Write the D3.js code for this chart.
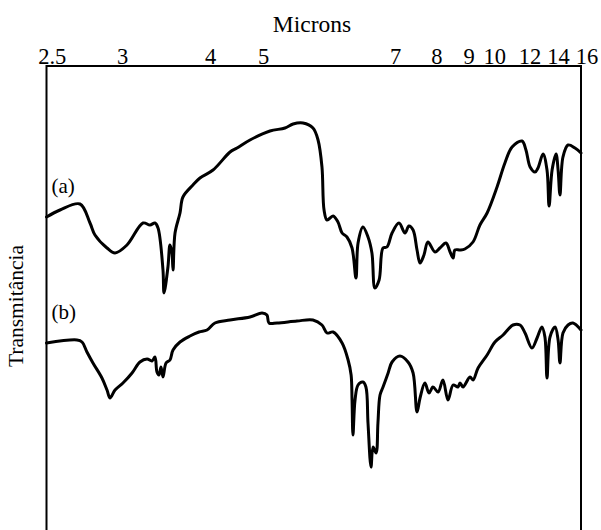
<!DOCTYPE html>
<html>
<head>
<meta charset="utf-8">
<script src="https://cdn.jsdelivr.net/npm/d3@7"></script>
<style>
  html, body { margin: 0; padding: 0; background: #fff; }
  svg { display: block; }
  text { font-family: "Liberation Serif", "Times New Roman", serif; fill: #000; }
</style>
</head>
<body>
<script>
// ---- data (wavenumber cm^-1, transmittance %) ----
const micronTicks = [2.5, 3, 4, 5, 7, 8, 9, 10, 12, 14, 16];
const seriesLabels = ["(a)", "(b)"];
const xTitle = "Microns";
const yTitle = "Transmitância";

const spectrumA = [
  [4050,69.8],[3922,71.2],[3733,72.4],[3638,68.6],[3591,66.2],[3477,63.6],[3401,62.6],[3288,64.2],
  [3136,68.6],[3070,68.2],[3023,68.6],[2994,67.6],[2947,59.2],[2937,54.6],[2900,59.8],[2881,64.2],
  [2862,62.6],[2852,59.2],[2833,66.6],[2786,70.6],[2758,73.8],[2663,76.2],[2597,77.6],[2473,79.2],
  [2312,82.8],[2246,83.6],[2123,85.2],[1970,87.0],[1905,87.6],[1870,88.4],[1827,88.6],[1784,87.6],
  [1762,85.2],[1745,79.8],[1736,71.2],[1723,69.2],[1697,70.0],[1676,68.8],[1658,66.6],[1637,65.8],
  [1615,63.6],[1598,57.6],[1589,64.6],[1568,67.8],[1546,65.8],[1529,62.6],[1516,55.6],[1498,57.2],
  [1481,63.6],[1464,63.8],[1442,66.6],[1412,68.6],[1386,66.6],[1369,68.0],[1351,67.2],[1334,63.2],
  [1321,60.6],[1304,62.2],[1287,64.8],[1256,62.8],[1235,63.6],[1209,64.6],[1191,62.8],[1178,61.6],
  [1170,63.2],[1148,63.2],[1127,63.4],[1092,64.8],[1062,68.2],[1031,70.6],[988,75.8],[954,80.6],
  [923,83.8],[880,85.0],[863,83.2],[845,79.8],[824,78.8],[811,79.6],[789,82.4],[772,79.2],
  [763,72.0],[750,79.2],[733,82.4],[724,79.2],[716,74.2],[703,81.8],[681,84.2],[651,83.6],[625,82.6]
];

const spectrumB = [
  [4050,44.6],[3761,45.2],[3714,44.8],[3667,42.8],[3610,40.6],[3525,37.6],[3477,35.2],[3449,33.6],
  [3401,35.2],[3326,36.6],[3240,38.6],[3165,40.8],[3098,41.4],[3051,41.0],[3023,41.8],[3004,38.8],
  [2985,38.2],[2966,39.8],[2947,37.8],[2918,40.6],[2881,41.2],[2852,43.2],[2786,44.8],[2691,46.0],
  [2606,46.8],[2530,47.2],[2455,48.6],[2312,49.2],[2123,49.8],[2009,50.6],[1983,50.2],[1974,48.6],
  [1939,48.6],[1853,49.0],[1784,49.2],[1745,48.2],[1723,46.6],[1697,46.8],[1658,44.6],[1632,41.2],
  [1619,38.2],[1615,33.2],[1611,26.2],[1602,33.2],[1589,36.2],[1568,36.8],[1555,35.8],[1546,28.6],
  [1533,19.8],[1524,23.8],[1511,22.6],[1503,28.6],[1494,34.2],[1481,35.8],[1459,38.6],[1442,40.8],
  [1408,42.0],[1373,40.8],[1351,38.6],[1334,30.8],[1321,33.6],[1300,36.6],[1282,34.6],[1265,35.8],
  [1243,34.8],[1222,37.2],[1200,33.2],[1178,36.2],[1157,35.8],[1148,36.6],[1135,35.8],[1105,37.8],
  [1092,37.2],[1070,39.6],[1031,42.2],[997,44.8],[962,46.2],[919,48.2],[889,48.2],[867,46.6],
  [837,43.6],[815,45.6],[794,47.8],[781,45.8],[772,37.6],[759,45.8],[737,47.8],[724,45.2],
  [716,40.6],[703,46.6],[681,48.2],[660,48.6],[625,47.2]
];

// ---- layout ----
const W = 601, H = 530;
const mLeft = 46.5, mRight = 581, mTop = 66, mBottom = 566; // bottom lies below the visible window

const svg = d3.select("body").append("svg").attr("width", W).attr("height", H);

// piecewise-linear wavenumber scale (scale change at 2000 cm^-1)
const x = d3.scaleLinear().domain([4050, 2000, 625]).range([mLeft, 263, mRight]);
const y = d3.scaleLinear().domain([0, 100]).range([mBottom, mTop]);

// frame
svg.append("rect")
  .attr("x", mLeft).attr("y", mTop)
  .attr("width", mRight - mLeft).attr("height", mBottom - mTop)
  .attr("fill", "none").attr("stroke", "#000").attr("stroke-width", 2);

// top axis labels (microns)
const topAxis = d3.axisTop(x)
  .tickValues(micronTicks.map(m => 10000 / m))
  .tickFormat(d => String(Math.round(10000 / d * 10) / 10))
  .tickSize(0).tickPadding(0);
const gAxis = svg.append("g").attr("transform", `translate(0,${mTop - 2})`).call(topAxis);
gAxis.select(".domain").remove();
gAxis.selectAll("text")
  .attr("font-family", "Liberation Serif, serif")
  .attr("font-size", 22.5).attr("fill", "#000").attr("dy", 0);

// simple collision relaxation for crowded tick labels
(function relaxTicks() {
  const ticks = gAxis.selectAll(".tick").nodes();
  const items = ticks.map(t => {
    const tx = +t.getAttribute("transform").match(/translate\(([-\d.]+)/)[1];
    const w = t.querySelector("text").getComputedTextLength();
    return { node: t, cx: tx, w: w };
  });
  const gap = 6;
  for (let iter = 0; iter < 50; iter++) {
    for (let i = 1; i < items.length; i++) {
      const a = items[i - 1], b = items[i];
      const need = (a.w + b.w) / 2 + gap - (b.cx - a.cx);
      if (need > 0) { a.cx -= need / 2; b.cx += need / 2; }
    }
  }
  items.forEach(it => {
    const tx = +it.node.getAttribute("transform").match(/translate\(([-\d.]+)/)[1];
    d3.select(it.node).select("text").attr("x", it.cx - tx);
  });
})();

svg.append("text").attr("x", 312).attr("y", 32)
  .attr("text-anchor", "middle").attr("font-size", 23.5).text(xTitle);

svg.append("text")
  .attr("transform", `translate(23,306) rotate(-90)`)
  .attr("text-anchor", "middle").attr("font-size", 21.5).text(yTitle);

// spectra
const line = d3.line().x(d => x(d[0])).y(d => y(d[1])).curve(d3.curveCatmullRom.alpha(0.5));
[spectrumA, spectrumB].forEach(s => {
  svg.append("path").datum(s)
    .attr("d", line)
    .attr("fill", "none").attr("stroke", "#000")
    .attr("stroke-width", 3).attr("stroke-linejoin", "round").attr("stroke-linecap", "round");
});

// series labels, placed just above each curve's start
[spectrumA, spectrumB].forEach((s, i) => {
  svg.append("text")
    .attr("x", mLeft + 5)
    .attr("y", y(s[0][1]) - 24)
    .attr("font-size", 21).text(seriesLabels[i]);
});
</script>
</body>
</html>
